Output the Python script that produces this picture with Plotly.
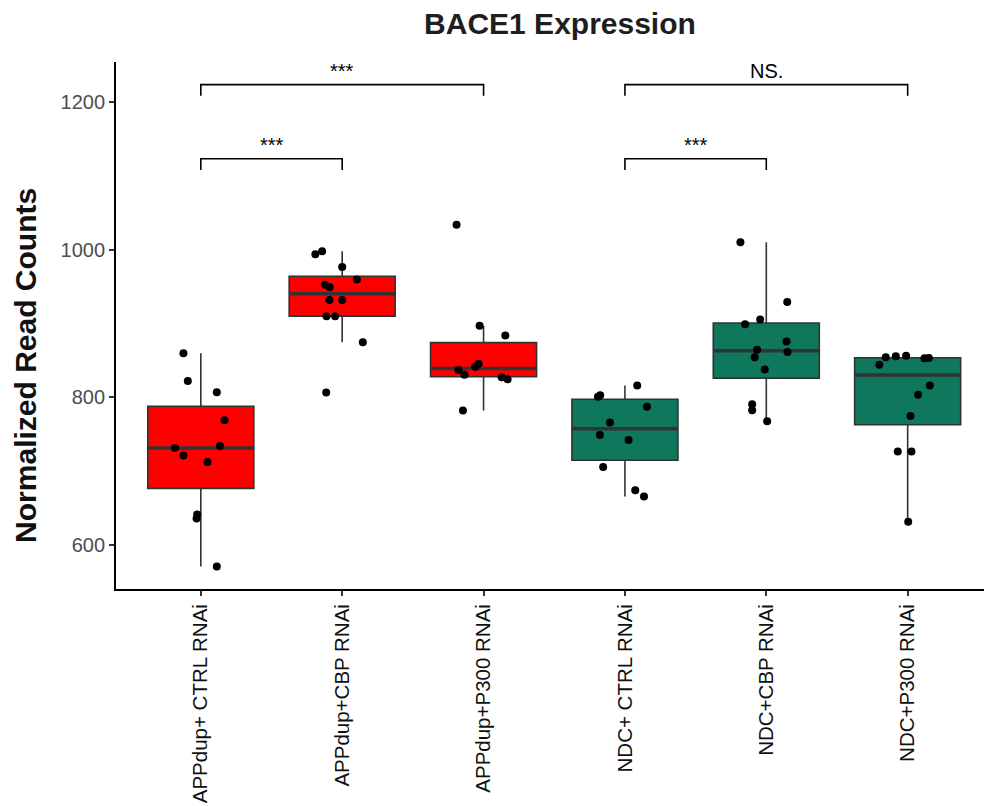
import numpy as np
import plotly.graph_objects as go

# ---- data ----
categories = ["APPdup+ CTRL RNAi", "APPdup+CBP RNAi", "APPdup+P300 RNAi",
              "NDC+ CTRL RNAi", "NDC+CBP RNAi", "NDC+P300 RNAi"]

appdup_ctrl = [859.4, 821.8, 806.8, 768.7, 731.0, 733.8, 721.0, 712.0, 640.8, 635.4, 570.5]
appdup_cbp = [993.7, 997.7, 976.4, 959.6, 952.4, 948.8, 931.5, 931.5, 909.8, 909.8, 874.4, 806.3]
appdup_p300 = [1033.6, 896.6, 883.4, 845.3, 841.2, 836.7, 830.3, 826.8, 824.1, 781.9]
ndc_ctrl = [815.9, 800.5, 802.7, 786.9, 765.5, 748.8, 742.0, 705.2, 673.9, 665.3]
ndc_cbp = [1010.0, 928.8, 905.2, 898.9, 875.3, 864.4, 861.2, 854.0, 837.6, 790.5, 782.3, 767.3]
ndc_p300 = [854.0, 855.4, 856.2, 852.7, 853.1, 844.0, 815.9, 803.2, 774.6, 726.5, 726.5, 631.3]

# horizontal jitter of each point (category units)
jit_appdup_ctrl = [-0.123, -0.092, 0.113, 0.168, -0.182, 0.135, -0.123, 0.047, -0.026, -0.030, 0.113]
jit_appdup_cbp = [-0.190, -0.142, 0.000, 0.104, -0.121, -0.088, -0.090, 0.000, -0.111, -0.050, 0.146, -0.113]
jit_appdup_p300 = [-0.191, -0.028, 0.154, -0.035, -0.059, -0.177, -0.135, 0.128, 0.170, -0.146]
jit_ndc_ctrl = [0.087, -0.191, -0.175, 0.156, -0.106, -0.177, 0.026, -0.154, 0.073, 0.135]
jit_ndc_cbp = [-0.183, 0.148, -0.043, -0.150, 0.143, -0.065, 0.150, -0.082, -0.011, -0.100, -0.100, 0.006]
jit_ndc_p300 = [-0.155, -0.084, -0.011, 0.119, 0.150, -0.200, 0.157, 0.074, 0.020, -0.070, 0.027, 0.004]

group_values = [appdup_ctrl, appdup_cbp, appdup_p300, ndc_ctrl, ndc_cbp, ndc_p300]
group_jitter = [jit_appdup_ctrl, jit_appdup_cbp, jit_appdup_p300, jit_ndc_ctrl, jit_ndc_cbp, jit_ndc_p300]
group_colors = ["#FF0000", "#FF0000", "#FF0000", "#0E775C", "#0E775C", "#0E775C"]

# significance comparisons
comp_left = [0, 3, 0, 3]
comp_right = [2, 5, 1, 4]
comp_y = [1223.5, 1223.5, 1123.0, 1123.0]
comp_label = ["***", "NS.", "***", "***"]
tip = 15.0

y_ticks = [600, 800, 1000, 1200]

FONT = "Liberation Sans, Arial, Helvetica, sans-serif"
BOXW = 0.75


def box_stats(vals):
    v = np.sort(np.asarray(vals, dtype=float))
    q1, med, q3 = np.percentile(v, [25, 50, 75])
    iqr = q3 - q1
    lf = v[v >= q1 - 1.5 * iqr].min()
    uf = v[v <= q3 + 1.5 * iqr].max()
    return q1, med, q3, lf, uf


fig = go.Figure()

for i, (vals, jit, col) in enumerate(zip(group_values, group_jitter, group_colors)):
    q1, med, q3, lf, uf = box_stats(vals)
    fig.add_trace(go.Box(
        x=[i], q1=[q1], median=[med], q3=[q3], lowerfence=[lf], upperfence=[uf],
        width=BOXW, fillcolor=col, line=dict(color="#333333", width=1.6),
        whiskerwidth=0, showlegend=False, hoverinfo="skip"))
    # thicker median line, as in the reference
    fig.add_trace(go.Scatter(
        x=[i - BOXW / 2, i + BOXW / 2], y=[med, med], mode="lines",
        line=dict(color="#333333", width=3.5), showlegend=False, hoverinfo="skip"))
    fig.add_trace(go.Scatter(
        x=[i + d for d in jit], y=vals, mode="markers",
        marker=dict(color="black", size=8, line=dict(width=0)),
        showlegend=False, hoverinfo="skip"))

for l, r, yv, lab in zip(comp_left, comp_right, comp_y, comp_label):
    fig.add_trace(go.Scatter(
        x=[l, l, r, r], y=[yv - tip, yv, yv, yv - tip], mode="lines",
        line=dict(color="black", width=1.6), showlegend=False, hoverinfo="skip"))
    fig.add_annotation(x=(l + r) / 2, y=yv, text=lab, showarrow=False,
                       xref="x", yref="y", yanchor="bottom", yshift=1,
                       font=dict(family=FONT, size=20, color="black"))

fig.add_annotation(x=-0.105, y=0.425, xref="paper", yref="paper",
                   text="<b>Normalized Read Counts</b>", textangle=-90,
                   showarrow=False, xanchor="center", yanchor="middle",
                   font=dict(family=FONT, size=30, color="#111111"))

fig.update_layout(
    width=984, height=806,
    margin=dict(l=116, r=0, t=62, b=217, autoexpand=False),
    paper_bgcolor="white", plot_bgcolor="white",
    title=dict(text="<b>BACE1 Expression</b>", x=0.5115, xref="paper",
               xanchor="center", y=1 - 23 / 806, yref="container", yanchor="middle",
               font=dict(family=FONT, size=30, color="#1e1e1e")),
    font=dict(family=FONT),
)
fig.update_xaxes(
    range=[-0.6, 5.54], tickmode="array", tickvals=list(range(len(categories))),
    ticktext=categories, tickangle=-90, ticks="outside", ticklen=5,
    tickcolor="#333333", tickwidth=1.5, showline=True, linecolor="black",
    linewidth=1.8, showgrid=False, zeroline=False, automargin=False,
    tickfont=dict(family=FONT, size=20.5, color="#111111"))
fig.update_yaxes(
    range=[540, 1254.2], tickmode="array", tickvals=y_ticks,
    ticks="outside", ticklen=5, tickcolor="#333333", tickwidth=1.5,
    showline=True, linecolor="black", linewidth=1.8, showgrid=False,
    zeroline=False, automargin=False,
    tickfont=dict(family=FONT, size=20, color="#4D4D4D"))

fig.write_html(
    "out.html",
    config={"displayModeBar": False},
    post_script="document.body.style.margin='0';document.body.style.overflow='hidden';",
)
